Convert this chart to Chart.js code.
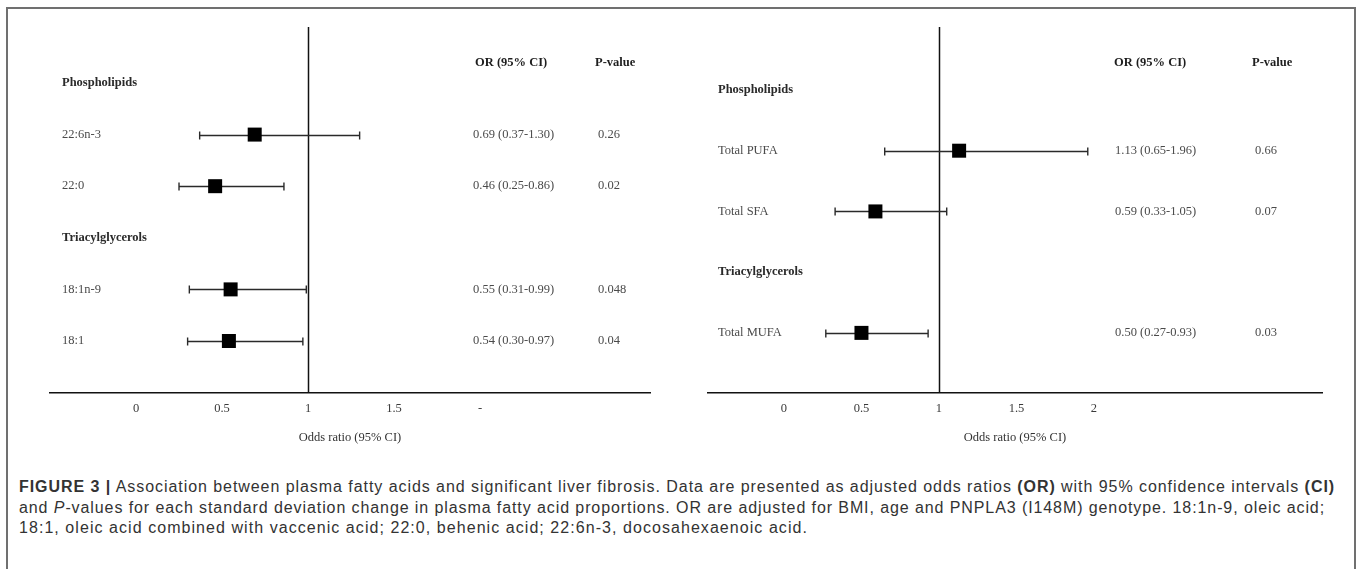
<!DOCTYPE html>
<html>
<head>
<meta charset="utf-8">
<script src="https://cdn.jsdelivr.net/npm/chart.js@4.4.0/dist/chart.umd.min.js"></script>
<style>
  html, body { margin: 0; padding: 0; background: #fff; }
  body { width: 1357px; height: 569px; position: relative; overflow: hidden; }
  #frame { position: absolute; left: 6px; top: 7px; width: 1350px; height: 600px; border: 2px solid #707070; box-sizing: border-box; }
  .panel { position: absolute; top: 0; }
  #caption { position: absolute; left: 19px; top: 477px; font-family: 'Liberation Sans', Arial, sans-serif; font-size: 16px; line-height: 20.5px; color: #333; }
  #caption div { white-space: nowrap; display: block; }
  #caption span.l { display: inline-block; }
</style>
</head>
<body>
<div id="frame"></div>
<div class="panel" style="left:0px"><canvas id="leftChart" width="680" height="460"></canvas></div>
<div class="panel" style="left:680px"><canvas id="rightChart" width="677" height="460"></canvas></div>
<div id="caption">
  <div><span class="l" data-w="1316"><b>FIGURE 3 |</b> Association between plasma fatty acids and significant liver fibrosis. Data are presented as adjusted odds ratios <b>(OR)</b> with 95% confidence intervals <b>(CI)</b></span></div>
  <div><span class="l" data-w="1306">and <i>P</i>-values for each standard deviation change in plasma fatty acid proportions. OR are adjusted for BMI, age and PNPLA3 (I148M) genotype. 18:1n-9, oleic acid;</span></div>
  <div><span class="l" data-w="789">18:1, oleic acid combined with vaccenic acid; 22:0, behenic acid; 22:6n-3, docosahexaenoic acid.</span></div>
</div>
<script>
// left panel: individual fatty acids
var leftRows = ['Phospholipids', '22:6n-3', '22:0', 'Triacylglycerols', '18:1n-9', '18:1'];
var leftOR = [null, 0.69, 0.46, null, 0.55, 0.54];
var leftLow = [null, 0.37, 0.25, null, 0.31, 0.30];
var leftHigh = [null, 1.30, 0.86, null, 0.99, 0.97];
var leftP = ['', '0.26', '0.02', '', '0.048', '0.04'];
var leftTickLabels = ['0', '0.5', '1', '1.5', '-'];

// right panel: totals
var rightRows = ['Phospholipids', 'Total PUFA', 'Total SFA', 'Triacylglycerols', 'Total MUFA'];
var rightOR = [null, 1.13, 0.59, null, 0.50];
var rightLow = [null, 0.65, 0.33, null, 0.27];
var rightHigh = [null, 1.96, 1.05, null, 0.93];
var rightP = ['', '0.66', '0.07', '', '0.03'];
var rightTickLabels = ['0', '0.5', '1', '1.5', '2'];

var tickValues = [0, 0.5, 1, 1.5, 2];
var refValue = 1;
var axisTitle = 'Odds ratio (95% CI)';
var orHeader = 'OR (95% CI)';
var pHeader = 'P-value';

Chart.defaults.font.family = "'Liberation Serif', 'Times New Roman', serif";
Chart.defaults.font.size = 12.5;
Chart.defaults.color = '#3a3a3a';

function fmt(v) { return v.toFixed(2); }

// draws ref line, CI whiskers and the text columns
function forestPlugin(rows, or, low, high, pvals, cols) {
  return {
    id: 'forest',
    beforeDatasetsDraw: function(chart) {
      var x = chart.scales.x, y = chart.scales.y, ctx = chart.ctx, area = chart.chartArea;
      ctx.save();
      ctx.strokeStyle = '#111';
      ctx.lineWidth = 1.5;
      var rx = Math.round(x.getPixelForValue(refValue)) + 0.5;
      ctx.beginPath();
      ctx.moveTo(rx, area.top);
      ctx.lineTo(rx, area.bottom);
      ctx.stroke();

      ctx.strokeStyle = '#2a2a2a';
      ctx.lineWidth = 1.4;
      for (var i = 0; i < rows.length; i++) {
        if (low[i] == null) continue;
        var yy = Math.round(y.getPixelForValue(i)) + 0.5;
        var x1 = x.getPixelForValue(low[i]);
        var x2 = x.getPixelForValue(high[i]);
        ctx.beginPath();
        ctx.moveTo(x1, yy); ctx.lineTo(x2, yy);
        ctx.moveTo(x1, yy - 4); ctx.lineTo(x1, yy + 4);
        ctx.moveTo(x2, yy - 4); ctx.lineTo(x2, yy + 4);
        ctx.stroke();
      }
      ctx.restore();
    },
    afterDraw: function(chart) {
      var y = chart.scales.y, ctx = chart.ctx, area = chart.chartArea;
      var fam = "'Liberation Serif', 'Times New Roman', serif";
      ctx.save();
      ctx.textBaseline = 'middle';
      ctx.textAlign = 'left';
      // column headers
      ctx.font = 'bold 12.5px ' + fam;
      ctx.fillStyle = '#1e1e1e';
      ctx.fillText(orHeader, cols.orHead, area.top + 36);
      ctx.fillText(pHeader, cols.pHead, area.top + 36);
      for (var i = 0; i < rows.length; i++) {
        var yy = y.getPixelForValue(i);
        if (or[i] == null) {
          ctx.font = 'bold 12.5px ' + fam;
          ctx.fillStyle = '#2a2a2a';
          ctx.fillText(rows[i], area.left + cols.label, yy);
          continue;
        }
        ctx.font = '12.5px ' + fam;
        ctx.fillStyle = '#4a4a4a';
        ctx.fillText(rows[i], area.left + cols.label, yy);
        ctx.fillText(fmt(or[i]) + ' (' + fmt(low[i]) + '-' + fmt(high[i]) + ')', cols.or, yy);
        ctx.fillText(pvals[i], cols.p, yy);
      }
      ctx.restore();
    }
  };
}

function makeForest(id, rows, or, low, high, pvals, tickLabels, lay) {
  var pts = [];
  for (var i = 0; i < rows.length; i++) {
    if (or[i] != null) pts.push({ x: or[i], y: i });
  }
  return new Chart(document.getElementById(id).getContext('2d'), {
    type: 'scatter',
    data: {
      datasets: [{
        data: pts,
        pointStyle: 'rect',
        pointRadius: 9.9,
        backgroundColor: '#000',
        borderWidth: 0
      }]
    },
    options: {
      responsive: false,
      animation: false,
      devicePixelRatio: 1,
      layout: { padding: lay.padding },
      plugins: { legend: { display: false }, tooltip: { enabled: false } },
      scales: {
        x: {
          type: 'linear',
          min: lay.xMin,
          max: lay.xMax,
          afterBuildTicks: function(scale) {
            scale.ticks = tickValues.map(function(v) { return { value: v }; });
          },
          ticks: {
            autoSkip: false,
            maxRotation: 0,
            padding: 8,
            color: '#3a3a3a',
            callback: function(v, idx) { return tickLabels[idx]; }
          },
          grid: { display: false, drawTicks: false },
          border: { display: true, color: '#111', width: 1.5 },
          title: {
            display: true,
            text: axisTitle,
            color: '#333',
            font: { size: 12.5 },
            padding: { top: 6.5, bottom: 0 }
          }
        },
        y: {
          type: 'linear',
          display: false,
          reverse: true,
          min: lay.yMin,
          max: lay.yMax
        }
      }
    },
    plugins: [forestPlugin(rows, or, low, high, pvals, lay.cols)]
  });
}

makeForest('leftChart', leftRows, leftOR, leftLow, leftHigh, leftP, leftTickLabels, {
  padding: { left: 50, right: 30, top: 27, bottom: 14.5 },
  xMin: -0.5, xMax: 2.988,
  yMin: -1.085, yMax: 6.008,
  cols: { label: 12, or: 473, p: 598, orHead: 475, pHead: 595 }
});

makeForest('rightChart', rightRows, rightOR, rightLow, rightHigh, rightP, rightTickLabels, {
  padding: { left: 28, right: 35, top: 27, bottom: 14.5 },
  xMin: -0.49, xMax: 3.471,
  yMin: -1.037, yMax: 4.99,
  cols: { label: 10, or: 435, p: 575, orHead: 434, pHead: 572 }
});

// stretch caption lines to the width they take in the figure
document.querySelectorAll('#caption span.l').forEach(function(el) {
  var target = +el.getAttribute('data-w');
  var n = el.textContent.length;
  var w = el.getBoundingClientRect().width;
  el.style.letterSpacing = ((target - w) / n) + 'px';
});
</script>
</body>
</html>
